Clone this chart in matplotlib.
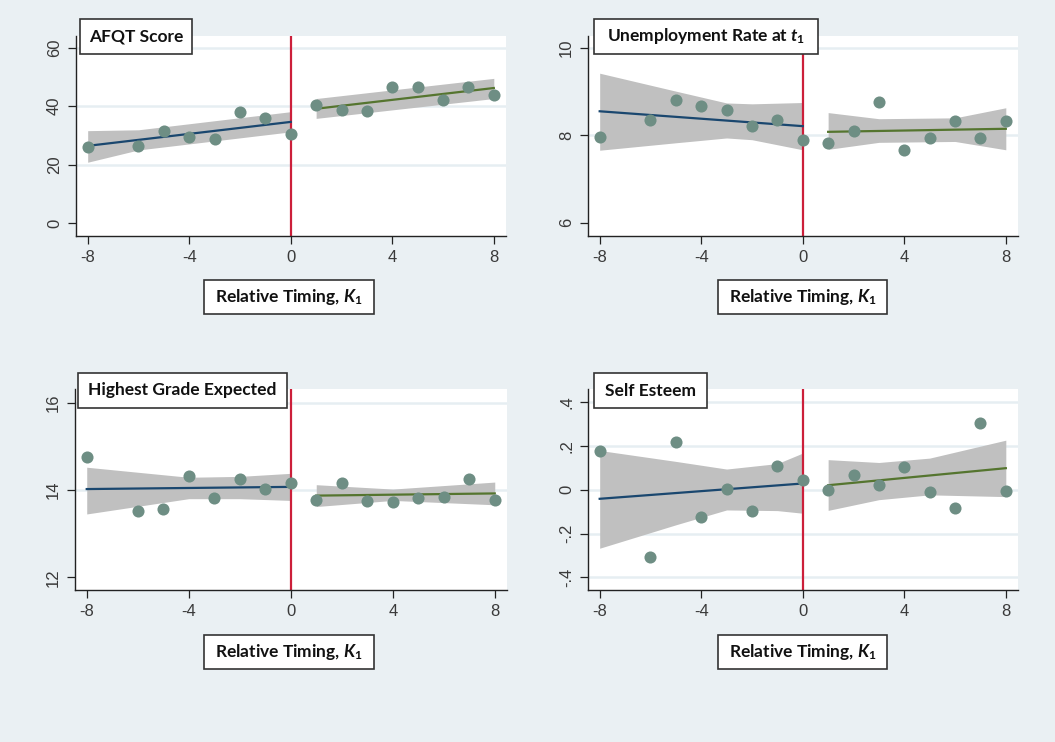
import matplotlib.pyplot as plt
import matplotlib.patches as patches

plt.rcParams['mathtext.fontset'] = 'custom'
plt.rcParams['mathtext.rm'] = 'Lato:bold'
plt.rcParams['mathtext.it'] = 'Lato:italic:bold'
plt.rcParams['mathtext.bf'] = 'Lato:bold'

# relative timing bins (no -7 bin)
x_left = [-8, -6, -5, -4, -3, -2, -1, 0]
x_right = [1, 2, 3, 4, 5, 6, 7, 8]
fit_left_x = [-8, 0]
fit_right_x = [1, 8]

# AFQT score
afqt_left = [26.1, 26.5, 31.6, 29.5, 28.6, 38.0, 36.0, 30.5]
afqt_right = [40.5, 38.7, 38.2, 46.4, 46.5, 42.1, 46.4, 43.8]
afqt_fit_left = [26.4, 34.6]
afqt_fit_right = [39.1, 46.2]
afqt_band_left_x = [-8, -6, 0]
afqt_band_left_lo = [20.8, 25.0, 31.2]
afqt_band_left_hi = [31.6, 31.9, 38.1]
afqt_band_right_x = [1, 8]
afqt_band_right_lo = [35.8, 42.6]
afqt_band_right_hi = [42.6, 49.5]

# unemployment rate at t1
unemp_left = [7.96, 8.35, 8.81, 8.67, 8.57, 8.22, 8.36, 7.89]
unemp_right = [7.83, 8.09, 8.77, 7.67, 7.95, 8.33, 7.94, 8.32]
unemp_fit_left = [8.55, 8.21]
unemp_fit_right = [8.08, 8.15]
unemp_band_left_x = [-8, -5, -3, -2, 0]
unemp_band_left_lo = [7.66, 7.83, 7.94, 7.90, 7.67]
unemp_band_left_hi = [9.42, 9.01, 8.74, 8.72, 8.75]
unemp_band_right_x = [1, 3, 6, 8]
unemp_band_right_lo = [7.68, 7.84, 7.86, 7.67]
unemp_band_right_hi = [8.52, 8.38, 8.40, 8.63]

# highest grade expected
grade_left = [14.75, 13.52, 13.56, 14.32, 13.81, 14.25, 14.01, 14.17]
grade_right = [13.77, 14.15, 13.75, 13.73, 13.82, 13.84, 14.24, 13.77]
grade_fit_left = [14.02, 14.07]
grade_fit_right = [13.87, 13.92]
grade_band_left_x = [-8, -4, -2, 0]
grade_band_left_lo = [13.45, 13.80, 13.80, 13.76]
grade_band_left_hi = [14.52, 14.29, 14.31, 14.38]
grade_band_right_x = [1, 4, 8]
grade_band_right_lo = [13.62, 13.76, 13.66]
grade_band_right_hi = [14.12, 14.02, 14.18]

# self esteem
esteem_left = [0.179, -0.308, 0.217, -0.124, 0.005, -0.098, 0.107, 0.043]
esteem_right = [-0.002, 0.066, 0.023, 0.104, -0.011, -0.081, 0.304, -0.005]
esteem_fit_left = [-0.041, 0.029]
esteem_fit_right = [0.021, 0.099]
esteem_band_left_x = [-8, -5, -3, -1, 0]
esteem_band_left_lo = [-0.267, -0.16, -0.092, -0.095, -0.107]
esteem_band_left_hi = [0.180, 0.13, 0.095, 0.12, 0.168]
esteem_band_right_x = [1, 3, 5, 8]
esteem_band_right_lo = [-0.094, -0.045, -0.023, -0.031]
esteem_band_right_hi = [0.138, 0.125, 0.145, 0.227]

W, H = 1055, 742
BG = '#eaf0f3'
GRID = '#e6eef2'
NAVY = '#1a476f'
GREEN = '#55752f'
TEAL = '#6e8e84'
BAND = '#c0c0c0'
RED = '#cc1f3a'

fig = plt.figure(figsize=(W / 100, H / 100), dpi=100)
fig.patch.set_facecolor(BG)


def frac(x0, y0, x1, y1):
    return [x0 / W, 1 - y1 / H, (x1 - x0) / W, (y1 - y0) / H]


def box(x0, y0, x1, y1, text):
    fig.patches.append(patches.Rectangle((x0 / W, 1 - y1 / H), (x1 - x0) / W, (y1 - y0) / H,
                                         transform=fig.transFigure, facecolor='white',
                                         edgecolor='#333333', linewidth=1.2, zorder=10))
    fig.text((x0 + x1) / 2 / W, 1 - (y0 + y1) / 2 / H, text, ha='center', va='center',
             fontsize=12.5, family='Lato', weight='bold', color='#111111', zorder=11)


def panel(rect, ylim, yticks, yticklabels, grid, yl, yr, fl, fr, bl, br):
    ax = fig.add_axes(frac(*rect))
    ax.set_facecolor('white')
    for yt in grid:
        ax.axhline(yt, color=GRID, lw=1.8, zorder=0)
    ax.fill_between(bl[0], bl[1], bl[2], color=BAND, lw=0, zorder=1)
    ax.fill_between(br[0], br[1], br[2], color=BAND, lw=0, zorder=1)
    ax.axvline(0, color=RED, lw=1.6, zorder=2)
    ax.plot(fit_left_x, fl, color=NAVY, lw=1.6, zorder=3)
    ax.plot(fit_right_x, fr, color=GREEN, lw=1.6, zorder=3)
    ax.plot(x_left, yl, 'o', color=TEAL, ms=8.7, mew=0, zorder=4)
    ax.plot(x_right, yr, 'o', color=TEAL, ms=8.7, mew=0, zorder=4)
    ax.set_xlim(-8.46, 8.48)
    ax.set_ylim(*ylim)
    ax.set_xticks([-8, -4, 0, 4, 8])
    ax.set_xticklabels(['-8', '-4', '0', '4', '8'])
    ax.set_yticks(yticks)
    ax.set_yticklabels(yticklabels, rotation=90, va='center')
    for s in ['top', 'right']:
        ax.spines[s].set_visible(False)
    for s in ['left', 'bottom']:
        ax.spines[s].set_color('#222222')
        ax.spines[s].set_linewidth(1.0)
    ax.tick_params(length=6, width=0.9, color='#222222', pad=4, labelsize=12, labelcolor='#3a3a3a')
    for lab in ax.get_xticklabels() + ax.get_yticklabels():
        lab.set_family('Liberation Sans')
    return ax


panel((76, 36, 506, 236), (-4.45, 64), [0, 20, 40, 60], ['0', '20', '40', '60'], [20, 40, 60],
      afqt_left, afqt_right, afqt_fit_left, afqt_fit_right,
      (afqt_band_left_x, afqt_band_left_lo, afqt_band_left_hi),
      (afqt_band_right_x, afqt_band_right_lo, afqt_band_right_hi))
panel((588, 36, 1018, 236), (5.70, 10.27), [6, 8, 10], ['6', '8', '10'], [8, 10],
      unemp_left, unemp_right, unemp_fit_left, unemp_fit_right,
      (unemp_band_left_x, unemp_band_left_lo, unemp_band_left_hi),
      (unemp_band_right_x, unemp_band_right_lo, unemp_band_right_hi))
panel((75, 389, 507, 590), (11.71, 16.31), [12, 14, 16], ['12', '14', '16'], [14, 16],
      grade_left, grade_right, grade_fit_left, grade_fit_right,
      (grade_band_left_x, grade_band_left_lo, grade_band_left_hi),
      (grade_band_right_x, grade_band_right_lo, grade_band_right_hi))
panel((588, 389, 1018, 590), (-0.458, 0.461), [-0.4, -0.2, 0, 0.2, 0.4],
      ['-.4', '-.2', '0', '.2', '.4'], [-0.4, -0.2, 0, 0.2, 0.4],
      esteem_left, esteem_right, esteem_fit_left, esteem_fit_right,
      (esteem_band_left_x, esteem_band_left_lo, esteem_band_left_hi),
      (esteem_band_right_x, esteem_band_right_lo, esteem_band_right_hi))

box(80, 19, 192, 54, 'AFQT Score')
box(594, 19, 818, 54, 'Unemployment Rate at $t_1$')
box(78, 373, 287, 408, 'Highest Grade Expected')
box(594, 373, 707, 408, 'Self Esteem')
xlab = 'Relative Timing, $K_1$'
box(204, 280, 374, 314, xlab)
box(718, 280, 887, 314, xlab)
box(204, 635, 374, 669, xlab)
box(718, 635, 887, 669, xlab)

fig.savefig('out.png', dpi=100, facecolor=BG)
